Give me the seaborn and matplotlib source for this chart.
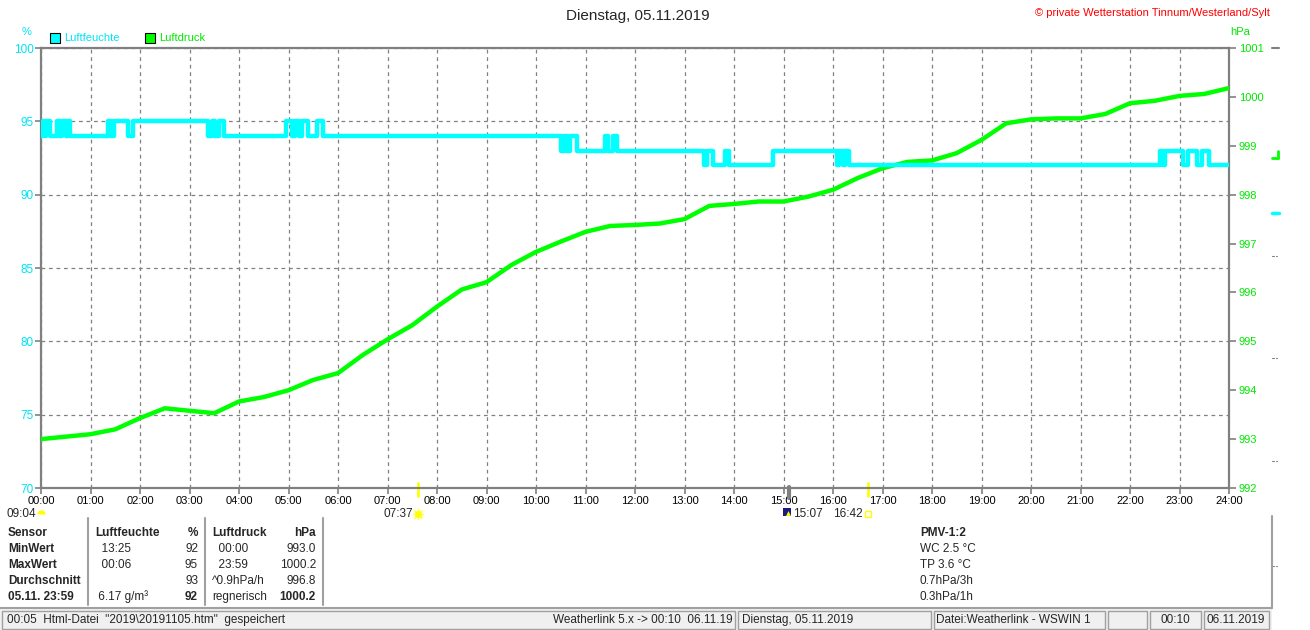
import matplotlib
matplotlib.use("Agg")
import matplotlib.pyplot as plt
from matplotlib.patches import Rectangle
from matplotlib.lines import Line2D
from matplotlib.transforms import blended_transform_factory
import numpy as np
import seaborn as sns

W, H = 1310, 630

druck_stunde = np.arange(0, 24.5, 0.5)
druck_hpa = [993.00, 993.05, 993.10, 993.20, 993.43, 993.63, 993.58, 993.53,
             993.77, 993.86, 994.00, 994.21, 994.35, 994.72, 995.04, 995.33,
             995.71, 996.06, 996.21, 996.56, 996.83, 997.04, 997.24, 997.36,
             997.38, 997.41, 997.50, 997.77, 997.81, 997.86, 997.86, 997.96,
             998.10, 998.34, 998.54, 998.67, 998.70, 998.85, 999.12, 999.46,
             999.54, 999.56, 999.56, 999.65, 999.87, 999.92, 1000.02, 1000.06,
             1000.18]

# Luftfeuchte (%), Wechselzeitpunkte (Stunden) und Werte
feuchte_stunde = [0.00, 0.04, 0.08, 0.11, 0.18, 0.32, 0.38, 0.43, 0.50, 0.54,
                  0.59, 1.35, 1.42, 1.47, 1.76, 1.86, 3.37, 3.45, 3.52, 3.60,
                  3.70, 4.95, 5.07, 5.13, 5.22, 5.28, 5.39, 5.58, 5.70, 10.50,
                  10.57, 10.62, 10.68, 10.83, 11.39, 11.45, 11.56, 11.64, 13.39,
                  13.45, 13.58, 13.82, 13.90, 14.79, 16.08, 16.12, 16.20, 16.24,
                  16.32, 22.60, 22.66, 22.70, 23.07, 23.17, 23.35, 23.45, 23.60,
                  24.00]
feuchte_proz = [94, 95, 94, 95, 94, 95, 94, 95, 94, 95,
                94, 95, 94, 95, 94, 95, 94, 95, 94, 95,
                94, 95, 94, 95, 94, 95, 94, 95, 94, 93,
                94, 93, 94, 93, 94, 93, 94, 93, 92,
                93, 92, 93, 92, 93, 92, 93, 92, 93,
                92, 93, 92, 93, 92, 93, 92, 93, 92,
                92]

stunden = list(range(25))
stunden_labels = ["%02d:00" % h for h in stunden]
feuchte_ticks = [70, 75, 80, 85, 90, 95, 100]
druck_ticks = list(range(992, 1002))

# Sonne / Mond Ereignisse
ereignis_zeit = [0.0, 7 + 37 / 60, 15 + 7 / 60, 16 + 42 / 60]
ereignis_text = ["09:04", "07:37", "15:07", "16:42"]

CYAN = "#00ffff"
CYAN_T = "#00e4f4"
GREEN = "#00ff00"
GREEN_T = "#00e800"
GRAU = "#808080"

sns.set_style("white")
plt.rcParams["font.family"] = ["Liberation Sans", "DejaVu Sans"]


def fx(px):
    return px / W


def fy(py):
    return 1 - py / H


fig = plt.figure(figsize=(W / 100, H / 100), dpi=100)
fig.patch.set_facecolor("white")
ax = fig.add_axes([fx(41), fy(488), 1188 / W, 440 / H])
ax2 = ax.twinx()
ax3 = ax.twinx()

# grid + left axis
ax.set_xlim(0, 24)
ax.set_ylim(70, 100)
ax.set_xticks(stunden)
ax.set_xticklabels(stunden_labels)
ax.set_yticks(feuchte_ticks)
ax.grid(True, color=GRAU, lw=0.9, linestyle=(0, (3, 3)))
for s in ax.spines.values():
    s.set_color(GRAU)
    s.set_linewidth(1.6)
ax.tick_params(axis="y", direction="out", length=4, width=1.2, color=GRAU,
               labelcolor=CYAN_T, labelsize=8.5, pad=1, left=True)
ax.tick_params(axis="x", direction="out", length=4, width=1.2, color=GRAU,
               labelcolor="black", labelsize=8, pad=2, bottom=True)

# right axis: pressure
ax2.set_ylim(992, 1001)
ax2.set_yticks(druck_ticks)
for s in ax2.spines.values():
    s.set_visible(False)
ax2.tick_params(axis="y", direction="out", length=5, width=1.2, color=GRAU,
                labelcolor=GREEN_T, labelsize=8, pad=2, right=True)
sns.lineplot(x=druck_stunde, y=druck_hpa, ax=ax2, color=GREEN, lw=3.2,
             estimator=None, sort=False)
ax2.set_xlim(0, 24)

# humidity on top
ax3.set_ylim(70, 100)
ax3.set_yticks([])
for s in ax3.spines.values():
    s.set_visible(False)
sns.lineplot(x=feuchte_stunde, y=feuchte_proz, ax=ax3, color=CYAN, lw=3.2,
             drawstyle="steps-post", estimator=None, sort=False)
ax3.set_xlim(0, 24)
ax3.set_ylabel("")
ax2.set_ylabel("")

# event markers on the time axis
tr = blended_transform_factory(ax.transData, ax.transAxes)
ax.plot([ereignis_zeit[1]] * 2, [0.012, -0.018], color="#ffff00", lw=2,
        transform=tr, clip_on=False)
ax.plot([ereignis_zeit[2]] * 2, [0.003, -0.023], color=GRAU, lw=3,
        transform=tr, clip_on=False)
ax.plot([ereignis_zeit[3]] * 2, [0.012, -0.018], color="#ffff00", lw=2,
        transform=tr, clip_on=False)
yrow = -0.059
ax.plot([ereignis_zeit[0]], [yrow], marker="o", fillstyle="top", ms=6,
        color="#ffff00", markerfacecoloralt="none", mew=0,
        transform=tr, clip_on=False)
ax.plot([ereignis_zeit[1]], [yrow], marker=(8, 2, 0), ms=8, color="#ffff60",
        mew=1, transform=tr, clip_on=False)
ax.plot([ereignis_zeit[1]], [yrow], marker="o", ms=5, color="#ffff00",
        mew=0, transform=tr, clip_on=False)
ax.plot([ereignis_zeit[2] - 0.05], [yrow + 0.004], marker="s", ms=6,
        color="#1a1a80", mew=0, transform=tr, clip_on=False)
ax.plot([ereignis_zeit[2] - 0.03], [yrow + 0.002], marker="^", ms=3.5,
        color="#ffff00", mew=0, transform=tr, clip_on=False)
ax.plot([ereignis_zeit[3]], [yrow], marker="s", ms=4, mfc="none",
        mec="#ffff00", mew=1, transform=tr, clip_on=False)
for t, lab, dx, ha in zip(ereignis_zeit, ereignis_text,
                           [-5, -5, 4, -5], ["right", "right", "left", "right"]):
    ax.annotate(lab, xy=(t, yrow), xycoords=tr, xytext=(dx, 0),
                textcoords="offset pixels", ha=ha, va="center", fontsize=8.5,
                annotation_clip=False)

# titles / labels
fig.text(fx(638), fy(16), "Dienstag, 05.11.2019", ha="center", va="center",
         fontsize=11)
fig.text(fx(1270), fy(13), "\u00a9 private Wetterstation Tinnum/Westerland/Sylt",
         ha="right", va="center", fontsize=8, color="#ff0000")
fig.text(fx(27), fy(32), "%", ha="center", va="center", fontsize=8,
         color=CYAN_T)
fig.text(fx(1240), fy(32), "hPa", ha="center", va="center", fontsize=8,
         color=GREEN_T)
fig.patches.append(Rectangle((fx(50), fy(43)), 10 / W, 10 / H, facecolor=CYAN,
                             edgecolor="black", lw=0.8, transform=fig.transFigure))
fig.text(fx(64), fy(38), "Luftfeuchte", ha="left", va="center", fontsize=8,
         color=CYAN_T)
fig.patches.append(Rectangle((fx(145), fy(43)), 10 / W, 10 / H, facecolor=GREEN,
                             edgecolor="black", lw=0.8, transform=fig.transFigure))
fig.text(fx(159), fy(38), "Luftdruck", ha="left", va="center", fontsize=8,
         color=GREEN_T)

# side marks right of the chart
def mark(x0, x1, y0, y1, c, lw):
    fig.add_artist(Line2D([fx(x0), fx(x1)], [fy(y0), fy(y1)], color=c, lw=lw))


mark(1272, 1279, 48, 48, GRAU, 1.5)
mark(1272, 1278, 158, 158, GREEN, 2)
mark(1278, 1278, 151, 158, GREEN, 2)
mark(1272, 1279, 213, 213, CYAN, 2.5)
for yy in [256, 358, 461, 566]:
    mark(1272, 1274, yy, yy, GRAU, 0.8)
    mark(1276, 1277, yy, yy, GRAU, 0.8)

# table
rows_y = [533, 549, 565, 581, 597]
col_a = ["Sensor", "MinWert", "MaxWert", "Durchschnitt", "05.11. 23:59"]
col_b = ["Luftfeuchte", "  13:25", "  00:06", "", " 6.17 g/m\u00b3"]
col_c = ["%", "92", "95", "93", "92"]
col_d = ["Luftdruck", "  00:00", "  23:59", "^0.9hPa/h", "regnerisch"]
col_e = ["hPa", "993.0", "1000.2", "996.8", "1000.2"]
col_f = ["PMV-1:2", "WC 2.5 \u00b0C", "TP 3.6 \u00b0C", "0.7hPa/3h", "0.3hPa/1h"]
fs = 8.5
for i, yy in enumerate(rows_y):
    fig.text(fx(8), fy(yy), col_a[i], ha="left", va="center", fontsize=fs,
             fontweight="bold")
    fig.text(fx(95), fy(yy), col_b[i], ha="left", va="center", fontsize=fs,
             fontweight="bold" if i == 0 else "normal")
    fig.text(fx(198), fy(yy), col_c[i], ha="right", va="center", fontsize=fs,
             fontweight="bold" if i in (0, 4) else "normal")
    fig.text(fx(212), fy(yy), col_d[i], ha="left", va="center", fontsize=fs,
             fontweight="bold" if i == 0 else "normal")
    fig.text(fx(316), fy(yy), col_e[i], ha="right", va="center", fontsize=fs,
             fontweight="bold" if i in (0, 4) else "normal")
    fig.text(fx(920), fy(yy), col_f[i], ha="left", va="center", fontsize=fs,
             fontweight="bold" if i == 0 else "normal")

for xx in [88, 205, 323]:
    mark(xx, xx, 518, 605, "#a0a0a0", 1.5)
mark(1272, 1272, 516, 608, "#a0a0a0", 1.5)

# status bar
fig.patches.append(Rectangle((0, 0), fx(1272), fy(609), facecolor="#f0f0f0",
                             edgecolor="none", transform=fig.transFigure))
mark(0, 1272, 608, 608, "#a0a0a0", 1.5)
panels = [(2, 735), (738, 931), (934, 1105), (1108, 1147), (1150, 1201),
          (1204, 1269)]
for a, b in panels:
    fig.patches.append(Rectangle((fx(a), fy(629)), (b - a) / W, 18 / H,
                                 facecolor="#f0f0f0", edgecolor="#a0a0a0",
                                 lw=1, transform=fig.transFigure))
ys = 620
fig.text(fx(7), fy(ys), "00:05  Html-Datei  \"2019\\20191105.htm\"  gespeichert",
         ha="left", va="center", fontsize=fs)
fig.text(fx(733), fy(ys), "Weatherlink 5.x -> 00:10  06.11.19", ha="right",
         va="center", fontsize=fs)
fig.text(fx(742), fy(ys), "Dienstag, 05.11.2019", ha="left", va="center",
         fontsize=fs)
fig.text(fx(936), fy(ys), "Datei:Weatherlink - WSWIN 1", ha="left",
         va="center", fontsize=fs)
fig.text(fx(1175), fy(ys), "00:10", ha="center", va="center", fontsize=fs)
fig.text(fx(1236), fy(ys), "06.11.2019", ha="center", va="center", fontsize=fs)

fig.savefig("out.png", dpi=100)
